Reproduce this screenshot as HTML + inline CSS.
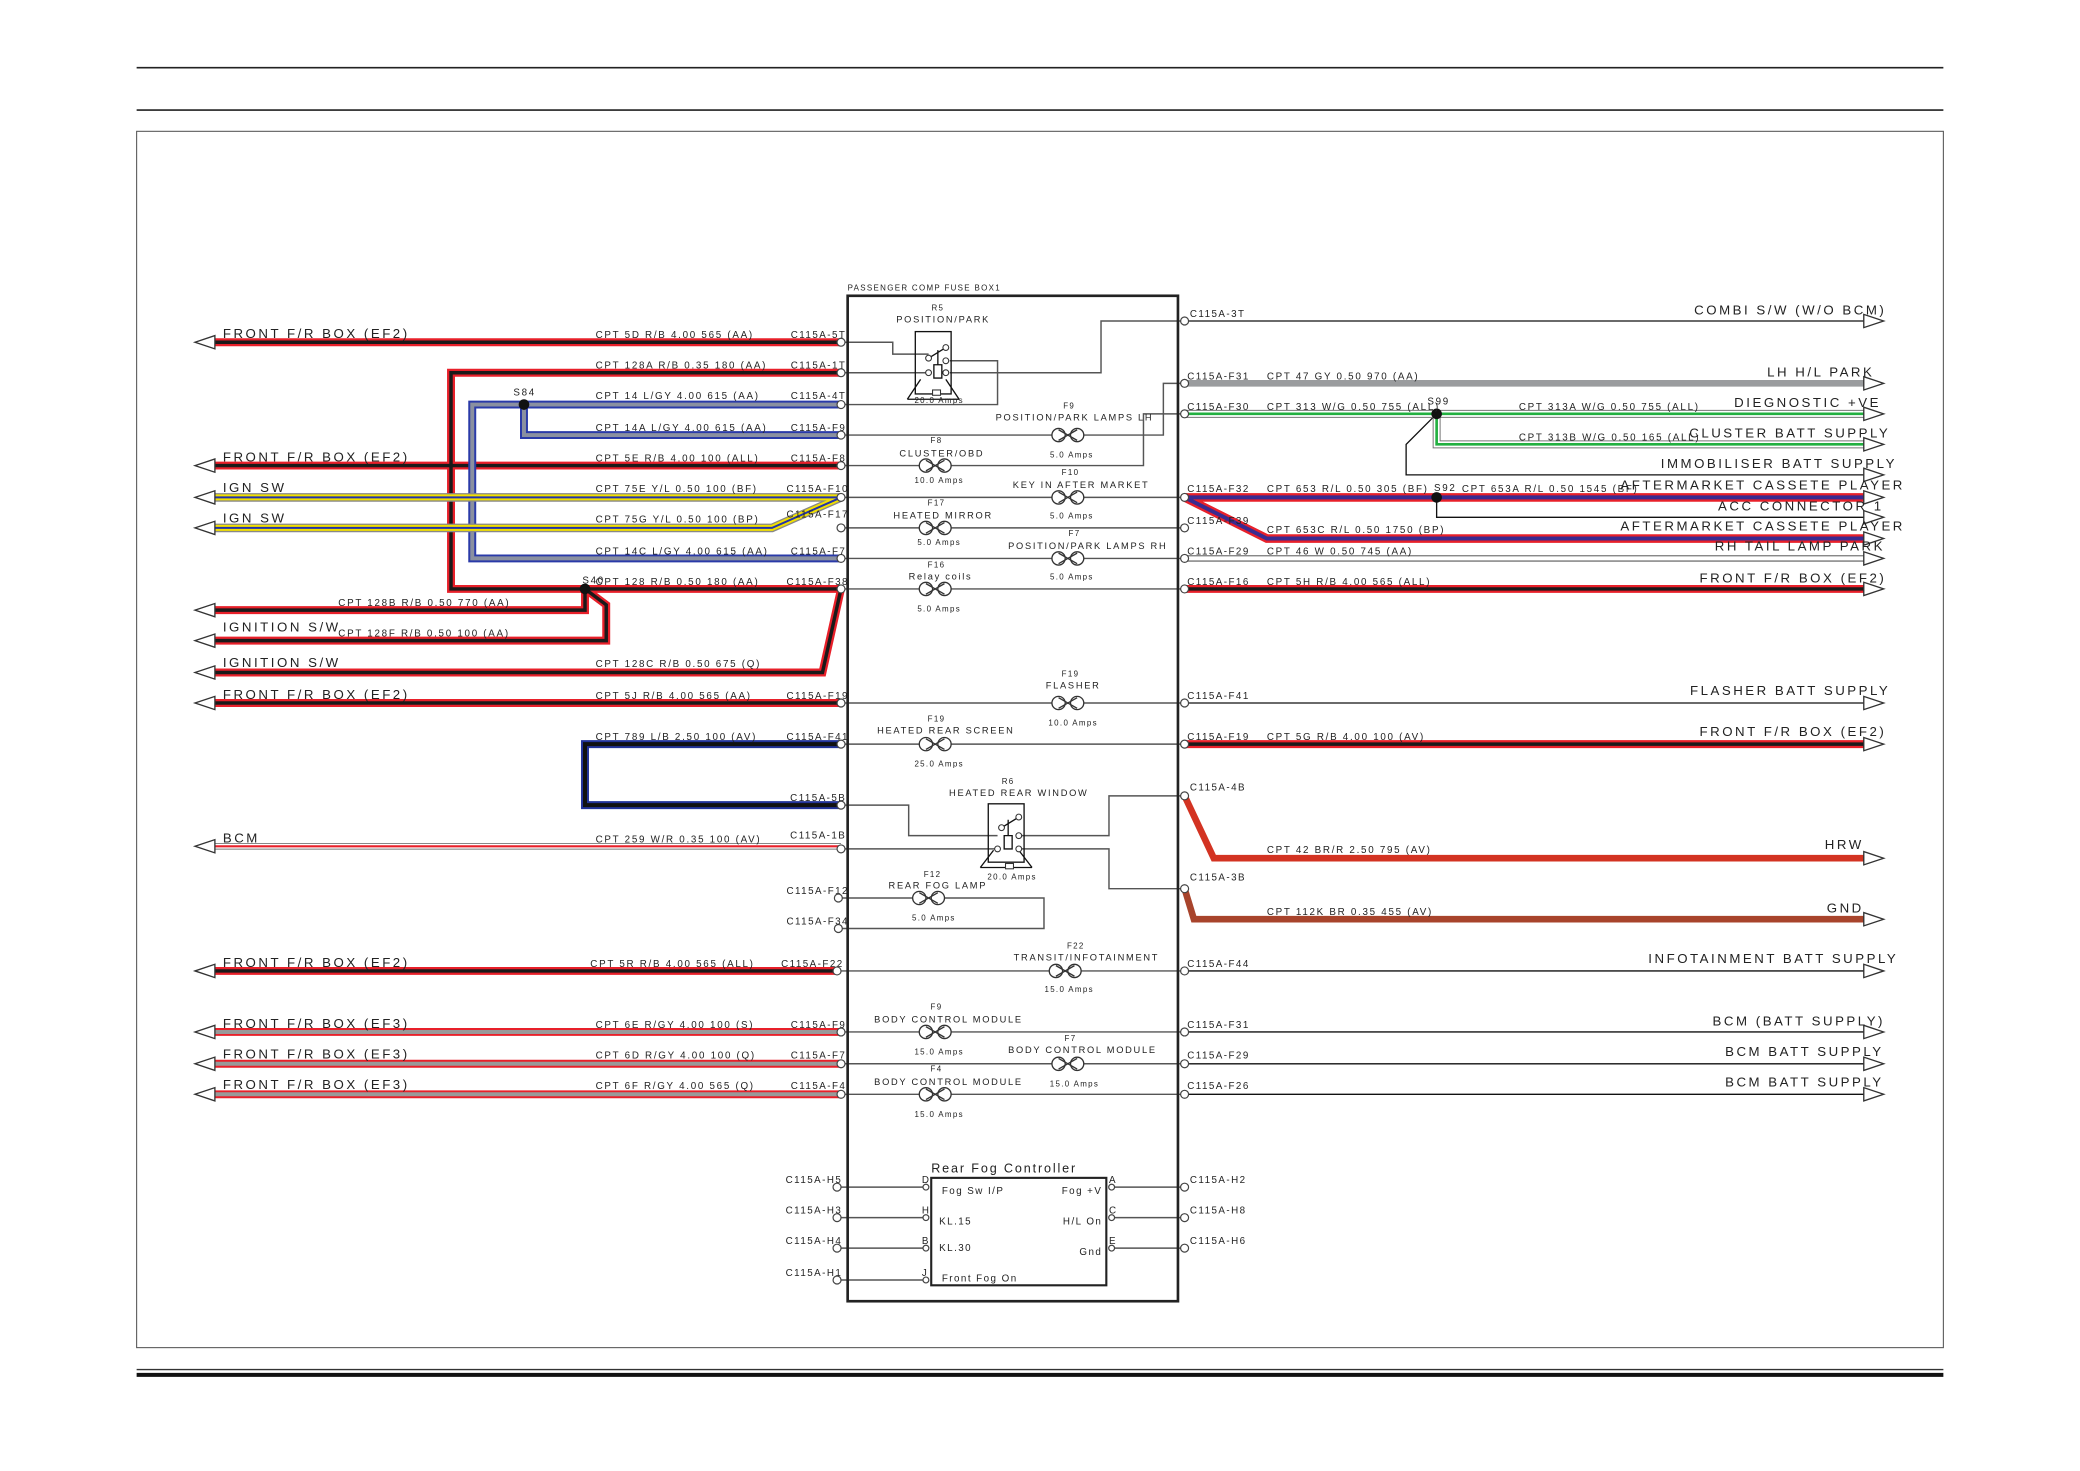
<!DOCTYPE html>
<html><head><meta charset="utf-8"><style>
html,body{margin:0;padding:0;background:#fff}
svg{display:block}
text{font-family:"Liberation Sans",sans-serif;fill:#222}
.L{font-size:10px;letter-spacing:1.9px}
.w{font-size:7.4px;letter-spacing:1.3px}
.c{font-size:7.4px;letter-spacing:1.1px}
.s{font-size:6px;letter-spacing:1px}
.m{font-size:7px;letter-spacing:1.3px}
.t{fill:none;stroke:#555;stroke-width:1.1}
.k{fill:none;stroke:#111;stroke-width:1}
.ar{fill:#fff;stroke:#333;stroke-width:1}
.cn{fill:#fff;stroke:#444;stroke-width:0.9}
</style></head><body>
<svg width="2080" height="1471" viewBox="0 0 1568 1109" preserveAspectRatio="none" xmlns="http://www.w3.org/2000/svg">
<defs>
<path id="rb1" d="M160,258H634"/>
<path id="rb2" d="M634,281H340V444H634"/>
<path id="rb3" d="M160,351H634"/>
<path id="rb4" d="M160,460H441V444M441,444L457,456V483H160"/>
<path id="rb5" d="M634,444L620,507H160"/>
<path id="rb6" d="M160,530H634"/>
<path id="rb7" d="M160,732H631"/>
<path id="rb8" d="M893,444H1408"/>
<path id="rb9" d="M893,561H1408"/>
<path id="lg1" d="M634,305H356V421H634M395,305V328H634"/>
<path id="yl1" d="M160,375H634"/>
<path id="yl2" d="M160,398H582L634,375"/>
<path id="lb1" d="M634,561H441V607H634"/>
<path id="wr1" d="M160,638H634"/>
<path id="rg1" d="M160,778H634M160,802H634M160,825H634"/>
<path id="wg1" d="M893,312H1408M1083,312V335H1408"/>
<path id="rl1" d="M893,375H1408M893,375L955,406H1408"/>
<path id="ww1" d="M893,421H1408"/>
<path id="gy1" d="M893,289H1408"/>
<g id="fz"><circle cx="-7" cy="0" r="5" fill="#fff" stroke="#333" stroke-width="1"/><circle cx="7" cy="0" r="5" fill="#fff" stroke="#333" stroke-width="1"/><path d="M-7,-4L7,4M-7,4L7,-4" stroke="#333" stroke-width="1"/></g>
</defs>

<path d="M103,51H1465M103,83H1465" stroke="#222" stroke-width="1.2"/>
<rect x="103" y="99" width="1362" height="917" fill="none" stroke="#555" stroke-width="0.8"/>
<path d="M103,1032.5H1465" stroke="#333" stroke-width="1"/>
<path d="M103,1036.5H1465" stroke="#111" stroke-width="3"/>

<g class="t">
<path d="M634,258H673V267H700"/>
<path d="M634,281H700M716,281H830V242H893"/>
<path d="M634,305H752V272H716"/>
<path d="M634,328H798M812,328H877V289H893"/>
<path d="M634,351H698M712,351H862V312H893"/>
<path d="M634,375H798M812,375H893"/>
<path d="M634,398H698M712,398H893"/>
<path d="M634,421H798M812,421H893"/>
<path d="M634,444H698M712,444H893"/>
<path d="M634,530H798M812,530H893"/>
<path d="M634,561H698M712,561H893"/>
<path d="M634,607H685V630H752"/>
<path d="M634,640H752M768,640H836V670H893"/>
<path d="M770,630H836V600H893"/>
<path d="M634,677H693M707,677H787V700H634"/>
<path d="M634,732H796M810,732H893"/>
<path d="M634,778H698M712,778H893"/>
<path d="M634,802H798M812,802H893"/>
<path d="M634,825H698M712,825H893"/>
<path d="M634,895H698M838,895H893M634,918H698M838,918H893M634,941H698M838,941H893M634,965H698"/>
</g>
<g class="k">
<rect x="690" y="250" width="27" height="47"/>
<path d="M700,270L713,262M707,264V275M704,275h6v10h-6zM684,301L694,286M723,301L713,286M684,301H723"/>
<rect x="745" y="606" width="27" height="44"/>
<path d="M755,624L768,616M760,618V630M757,630h6v10h-6zM739,654L749,641M778,654L768,641M739,654H778"/>
</g>
<g fill="#fff" stroke="#333" stroke-width="0.8">
<circle cx="700" cy="270" r="2.2"/><circle cx="713" cy="262" r="2.2"/><circle cx="700" cy="281" r="2.2"/><circle cx="713" cy="281" r="2.2"/><circle cx="713" cy="272" r="2.2"/>
<circle cx="755" cy="624" r="2.2"/><circle cx="768" cy="616" r="2.2"/><circle cx="752" cy="640" r="2.2"/><circle cx="768" cy="640" r="2.2"/><circle cx="768" cy="630" r="2.2"/>
<rect x="703" y="294" width="6" height="4"/><rect x="758" y="651" width="6" height="4"/>
</g>
<use href="#fz" x="805" y="328"/><use href="#fz" x="705" y="351"/><use href="#fz" x="805" y="375"/>
<use href="#fz" x="705" y="398"/><use href="#fz" x="805" y="421"/><use href="#fz" x="705" y="444"/>
<use href="#fz" x="805" y="530"/><use href="#fz" x="705" y="561"/><use href="#fz" x="700" y="677"/>
<use href="#fz" x="803" y="732"/><use href="#fz" x="705" y="778"/><use href="#fz" x="805" y="802"/><use href="#fz" x="705" y="825"/>

<rect x="639" y="223" width="249" height="758" fill="none" stroke="#222" stroke-width="2"/>
<rect x="702" y="888" width="132" height="81" fill="none" stroke="#222" stroke-width="1.6"/>

<g class="k">
<path d="M893,242H1408M893,530H1408M893,732H1408M893,778H1408M893,802H1408M893,825H1408"/>
<path d="M1083,312L1060,335V358H1408M1083,375V390H1408"/>
</g>

<g fill="none" stroke-linejoin="miter">
<g stroke="#e8202a" stroke-width="6"><use href="#rb1"/><use href="#rb2"/><use href="#rb3"/><use href="#rb4"/><use href="#rb5"/><use href="#rb6"/><use href="#rb7"/><use href="#rb8"/><use href="#rb9"/></g>
<g stroke="#1a1a1a" stroke-width="2.6"><use href="#rb1"/><use href="#rb2"/><use href="#rb3"/><use href="#rb4"/><use href="#rb5"/><use href="#rb6"/><use href="#rb7"/><use href="#rb8"/><use href="#rb9"/></g>
<use href="#lg1" stroke="#2a3aa8" stroke-width="6"/><use href="#lg1" stroke="#8a90a0" stroke-width="3"/>
<g stroke="#888" stroke-width="6.5"><use href="#yl1"/><use href="#yl2"/></g>
<g stroke="#f2e000" stroke-width="4.5"><use href="#yl1"/><use href="#yl2"/></g>
<g stroke="#2233aa" stroke-width="1.5"><use href="#yl1"/><use href="#yl2"/></g>
<use href="#lb1" stroke="#223399" stroke-width="6"/><use href="#lb1" stroke="#111" stroke-width="3"/>
<use href="#wr1" stroke="#777" stroke-width="5"/><use href="#wr1" stroke="#fff" stroke-width="3.5"/><use href="#wr1" stroke="#e8202a" stroke-width="1.6"/>
<use href="#rg1" stroke="#e8202a" stroke-width="6"/><use href="#rg1" stroke="#999" stroke-width="3"/>
<use href="#wg1" stroke="#777" stroke-width="6"/><use href="#wg1" stroke="#fff" stroke-width="4.5"/><use href="#wg1" stroke="#22b040" stroke-width="2"/>
<use href="#rl1" stroke="#e8202a" stroke-width="6.5"/><use href="#rl1" stroke="#3a2a90" stroke-width="3"/>
<use href="#ww1" stroke="#777" stroke-width="5"/><use href="#ww1" stroke="#fff" stroke-width="3"/>
<use href="#gy1" stroke="#9a9c9e" stroke-width="5"/>
<path d="M893,600L915,647H1408" stroke="#d33322" stroke-width="5"/>
<path d="M893,670L900,693H1408" stroke="#a8442c" stroke-width="5"/>
</g>
<g fill="#111"><circle cx="395" cy="305" r="4"/><circle cx="441" cy="444" r="4"/><circle cx="1083" cy="312" r="4"/><circle cx="1083" cy="375" r="4"/></g>

<g class="ar">
<path d="M147,258L162,253V263Z"/><path d="M147,351L162,346V356Z"/><path d="M147,375L162,370V380Z"/><path d="M147,398L162,393V403Z"/>
<path d="M147,460L162,455V465Z"/><path d="M147,483L162,478V488Z"/><path d="M147,507L162,502V512Z"/><path d="M147,530L162,525V535Z"/>
<path d="M147,638L162,633V643Z"/><path d="M147,732L162,727V737Z"/><path d="M147,778L162,773V783Z"/><path d="M147,802L162,797V807Z"/><path d="M147,825L162,820V830Z"/>
<path d="M1420,242L1405,237V247Z"/><path d="M1420,289L1405,284V294Z"/><path d="M1420,312L1405,307V317Z"/><path d="M1420,335L1405,330V340Z"/>
<path d="M1420,358L1405,353V363Z"/><path d="M1420,375L1405,370V380Z"/><path d="M1420,390L1405,385V395Z"/><path d="M1420,406L1405,401V411Z"/>
<path d="M1420,421L1405,416V426Z"/><path d="M1420,444L1405,439V449Z"/><path d="M1420,530L1405,525V535Z"/><path d="M1420,561L1405,556V566Z"/>
<path d="M1420,647L1405,642V652Z"/><path d="M1420,693L1405,688V698Z"/><path d="M1420,732L1405,727V737Z"/><path d="M1420,778L1405,773V783Z"/>
<path d="M1420,802L1405,797V807Z"/><path d="M1420,825L1405,820V830Z"/>
</g>

<g class="cn">
<circle cx="634" cy="258" r="3"/><circle cx="634" cy="281" r="3"/><circle cx="634" cy="305" r="3"/><circle cx="634" cy="328" r="3"/><circle cx="634" cy="351" r="3"/><circle cx="634" cy="375" r="3"/><circle cx="634" cy="398" r="3"/><circle cx="634" cy="421" r="3"/><circle cx="634" cy="444" r="3"/><circle cx="634" cy="530" r="3"/><circle cx="634" cy="561" r="3"/><circle cx="634" cy="607" r="3"/><circle cx="634" cy="640" r="3"/><circle cx="632" cy="677" r="3"/><circle cx="632" cy="700" r="3"/><circle cx="631" cy="732" r="3"/><circle cx="634" cy="778" r="3"/><circle cx="634" cy="802" r="3"/><circle cx="634" cy="825" r="3"/><circle cx="631" cy="895" r="3"/><circle cx="631" cy="918" r="3"/><circle cx="631" cy="941" r="3"/><circle cx="631" cy="965" r="3"/>
<circle cx="893" cy="242" r="3"/><circle cx="893" cy="289" r="3"/><circle cx="893" cy="312" r="3"/><circle cx="893" cy="375" r="3"/><circle cx="893" cy="398" r="3"/><circle cx="893" cy="421" r="3"/><circle cx="893" cy="444" r="3"/><circle cx="893" cy="530" r="3"/><circle cx="893" cy="561" r="3"/><circle cx="893" cy="600" r="3"/><circle cx="893" cy="670" r="3"/><circle cx="893" cy="732" r="3"/><circle cx="893" cy="778" r="3"/><circle cx="893" cy="802" r="3"/><circle cx="893" cy="825" r="3"/><circle cx="893" cy="895" r="3"/><circle cx="893" cy="918" r="3"/><circle cx="893" cy="941" r="3"/>
<circle cx="698" cy="895" r="2.2"/><circle cx="698" cy="918" r="2.2"/><circle cx="698" cy="941" r="2.2"/><circle cx="698" cy="965" r="2.2"/><circle cx="838" cy="895" r="2.2"/><circle cx="838" cy="918" r="2.2"/><circle cx="838" cy="941" r="2.2"/>
</g>

<g class="L">
<text x="168" y="255">FRONT F/R BOX (EF2)</text><text x="168" y="348">FRONT F/R BOX (EF2)</text>
<text x="168" y="371">IGN SW</text><text x="168" y="394">IGN SW</text>
<text x="168" y="476">IGNITION S/W</text><text x="168" y="503">IGNITION S/W</text>
<text x="168" y="527">FRONT F/R BOX (EF2)</text><text x="168" y="635">BCM</text>
<text x="168" y="729">FRONT F/R BOX (EF2)</text><text x="168" y="775">FRONT F/R BOX (EF3)</text>
<text x="168" y="798">FRONT F/R BOX (EF3)</text><text x="168" y="821">FRONT F/R BOX (EF3)</text>
</g>
<g class="w">
<text x="449" y="255">CPT 5D R/B 4.00 565 (AA)</text><text x="449" y="278">CPT 128A R/B 0.35 180 (AA)</text>
<text x="449" y="301">CPT 14 L/GY 4.00 615 (AA)</text><text x="449" y="325">CPT 14A L/GY 4.00 615 (AA)</text>
<text x="449" y="348">CPT 5E R/B 4.00 100 (ALL)</text><text x="449" y="371">CPT 75E Y/L 0.50 100 (BF)</text>
<text x="449" y="394">CPT 75G Y/L 0.50 100 (BP)</text><text x="449" y="418">CPT 14C L/GY 4.00 615 (AA)</text>
<text x="449" y="441">CPT 128 R/B 0.50 180 (AA)</text><text x="255" y="457">CPT 128B R/B 0.50 770 (AA)</text>
<text x="255" y="480">CPT 128F R/B 0.50 100 (AA)</text><text x="449" y="503">CPT 128C R/B 0.50 675 (Q)</text>
<text x="449" y="527">CPT 5J R/B 4.00 565 (AA)</text><text x="449" y="558">CPT 789 L/B 2.50 100 (AV)</text>
<text x="449" y="635">CPT 259 W/R 0.35 100 (AV)</text><text x="445" y="729">CPT 5R R/B 4.00 565 (ALL)</text>
<text x="449" y="775">CPT 6E R/GY 4.00 100 (S)</text><text x="449" y="798">CPT 6D R/GY 4.00 100 (Q)</text>
<text x="449" y="821">CPT 6F R/GY 4.00 565 (Q)</text>
<text x="387" y="298">S84</text><text x="439" y="440">S40</text>
</g>
<g class="c" text-anchor="end">
<text x="638" y="255">C115A-5T</text><text x="638" y="278">C115A-1T</text><text x="638" y="301">C115A-4T</text><text x="638" y="325">C115A-F9</text>
<text x="638" y="348">C115A-F8</text><text x="640" y="371">C115A-F10</text><text x="640" y="390">C115A-F17</text><text x="638" y="418">C115A-F7</text>
<text x="640" y="441">C115A-F38</text><text x="640" y="527">C115A-F19</text><text x="640" y="558">C115A-F41</text><text x="638" y="604">C115A-5B</text>
<text x="638" y="632">C115A-1B</text><text x="640" y="674">C115A-F12</text><text x="640" y="697">C115A-F34</text><text x="636" y="729">C115A-F22</text>
<text x="638" y="775">C115A-F9</text><text x="638" y="798">C115A-F7</text><text x="638" y="821">C115A-F4</text>
<text x="635" y="892">C115A-H5</text><text x="635" y="915">C115A-H3</text><text x="635" y="938">C115A-H4</text><text x="635" y="962">C115A-H1</text>
</g>
<g class="c">
<text x="897" y="239">C115A-3T</text><text x="895" y="286">C115A-F31</text><text x="895" y="309">C115A-F30</text><text x="895" y="371">C115A-F32</text>
<text x="895" y="395">C115A-F39</text><text x="895" y="418">C115A-F29</text><text x="895" y="441">C115A-F16</text><text x="895" y="527">C115A-F41</text>
<text x="895" y="558">C115A-F19</text><text x="897" y="596">C115A-4B</text><text x="897" y="664">C115A-3B</text><text x="895" y="729">C115A-F44</text>
<text x="895" y="775">C115A-F31</text><text x="895" y="798">C115A-F29</text><text x="895" y="821">C115A-F26</text>
<text x="897" y="892">C115A-H2</text><text x="897" y="915">C115A-H8</text><text x="897" y="938">C115A-H6</text>
</g>
<g class="w">
<text x="955" y="286">CPT 47 GY 0.50 970 (AA)</text><text x="955" y="309">CPT 313 W/G 0.50 755 (ALL)</text>
<text x="1145" y="309">CPT 313A W/G 0.50 755 (ALL)</text><text x="1145" y="332">CPT 313B W/G 0.50 165 (ALL)</text>
<text x="955" y="371">CPT 653 R/L 0.50 305 (BF)</text><text x="1102" y="371">CPT  653A R/L 0.50 1545 (BF)</text>
<text x="955" y="402">CPT 653C R/L 0.50 1750 (BP)</text><text x="955" y="418">CPT 46 W 0.50 745 (AA)</text>
<text x="955" y="441">CPT 5H R/B 4.00 565 (ALL)</text><text x="955" y="558">CPT 5G R/B 4.00 100 (AV)</text>
<text x="955" y="643">CPT  42 BR/R 2.50 795 (AV)</text><text x="955" y="690">CPT 112K BR 0.35 455 (AV)</text>
<text x="1076" y="305">S99</text><text x="1081" y="370">S92</text>
</g>
<g class="L" text-anchor="end">
<text x="1422" y="237">COMBI S/W (W/O BCM)</text><text x="1413" y="284">LH H/L PARK</text><text x="1418" y="307">DIEGNOSTIC +VE</text>
<text x="1425" y="330">CLUSTER BATT SUPPLY</text><text x="1430" y="353">IMMOBILISER BATT SUPPLY</text><text x="1436" y="369">AFTERMARKET CASSETE PLAYER</text>
<text x="1420" y="385">ACC CONNECTOR 1</text><text x="1436" y="400">AFTERMARKET CASSETE PLAYER</text><text x="1421" y="415">RH TAIL LAMP PARK</text>
<text x="1422" y="439">FRONT F/R BOX (EF2)</text><text x="1425" y="524">FLASHER BATT SUPPLY</text><text x="1422" y="555">FRONT F/R BOX (EF2)</text>
<text x="1405" y="640">HRW</text><text x="1405" y="688">GND</text><text x="1431" y="726">INFOTAINMENT BATT SUPPLY</text>
<text x="1421" y="773">BCM (BATT SUPPLY)</text><text x="1420" y="796">BCM BATT SUPPLY</text><text x="1420" y="819">BCM BATT SUPPLY</text>
</g>
<text class="s" x="639" y="219">PASSENGER COMP FUSE BOX1</text>
<g text-anchor="middle">
<text class="s" x="707" y="234">R5</text><text class="m" x="711" y="243">POSITION/PARK</text><text class="s" x="708" y="304">20.0 Amps</text>
<text class="s" x="806" y="308">F9</text><text class="m" x="810" y="317">POSITION/PARK LAMPS LH</text><text class="s" x="808" y="345">5.0 Amps</text>
<text class="s" x="706" y="334">F8</text><text class="m" x="710" y="344">CLUSTER/OBD</text><text class="s" x="708" y="364">10.0 Amps</text>
<text class="s" x="807" y="358">F10</text><text class="m" x="815" y="368">KEY IN AFTER MARKET</text><text class="s" x="808" y="391">5.0 Amps</text>
<text class="s" x="706" y="381">F17</text><text class="m" x="711" y="391">HEATED MIRROR</text><text class="s" x="708" y="411">5.0 Amps</text>
<text class="s" x="810" y="404">F7</text><text class="m" x="820" y="414">POSITION/PARK LAMPS RH</text><text class="s" x="808" y="437">5.0 Amps</text>
<text class="s" x="706" y="428">F16</text><text class="m" x="709" y="437">Relay coils</text><text class="s" x="708" y="461">5.0 Amps</text>
<text class="s" x="807" y="510">F19</text><text class="m" x="809" y="519">FLASHER</text><text class="s" x="809" y="547">10.0 Amps</text>
<text class="s" x="706" y="544">F19</text><text class="m" x="713" y="553">HEATED REAR SCREEN</text><text class="s" x="708" y="578">25.0 Amps</text>
<text class="s" x="760" y="591">R6</text><text class="m" x="768" y="600">HEATED REAR WINDOW</text><text class="s" x="763" y="663">20.0 Amps</text>
<text class="s" x="703" y="661">F12</text><text class="m" x="707" y="670">REAR FOG LAMP</text><text class="s" x="704" y="694">5.0 Amps</text>
<text class="s" x="811" y="715">F22</text><text class="m" x="819" y="724">TRANSIT/INFOTAINMENT</text><text class="s" x="806" y="748">15.0 Amps</text>
<text class="s" x="706" y="761">F9</text><text class="m" x="715" y="771">BODY CONTROL MODULE</text><text class="s" x="708" y="795">15.0 Amps</text>
<text class="s" x="807" y="785">F7</text><text class="m" x="816" y="794">BODY CONTROL MODULE</text><text class="s" x="810" y="819">15.0 Amps</text>
<text class="s" x="706" y="808">F4</text><text class="m" x="715" y="818">BODY CONTROL MODULE</text><text class="s" x="708" y="842">15.0 Amps</text>
</g>
<text x="702" y="884" style="font-size:9.5px;letter-spacing:1.4px">Rear Fog Controller</text>
<g class="c">
<text x="695" y="892">D</text><text x="695" y="915">H</text><text x="695" y="938">B</text><text x="695" y="962">J</text>
<text x="836" y="892">A</text><text x="836" y="915">C</text><text x="836" y="938">E</text>
<text x="710" y="900">Fog Sw I/P</text><text x="708" y="923">KL.15</text><text x="708" y="943">KL.30</text><text x="710" y="966">Front Fog On</text>
</g>
<g class="c" text-anchor="end">
<text x="831" y="900">Fog +V</text><text x="831" y="923">H/L On</text><text x="831" y="946">Gnd</text>
</g>
</svg>
</body></html>
